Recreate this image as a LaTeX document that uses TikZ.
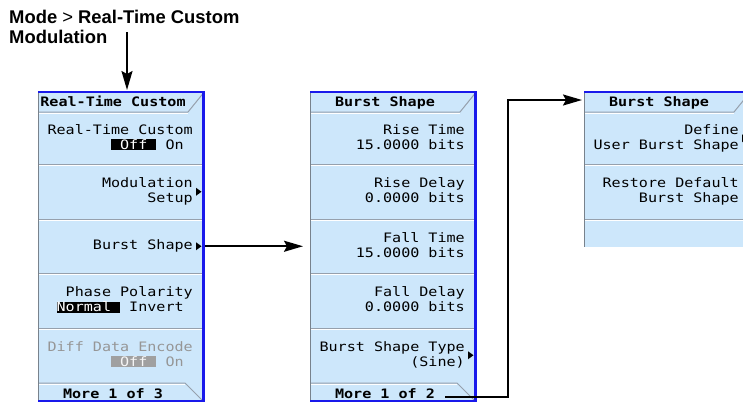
\documentclass[tikz,border=0pt]{standalone}
\usepackage{fontspec}
\setmainfont{Liberation Sans}
\newfontfamily\keyfont[FakeStretch=1.16]{DejaVu Sans Mono}
\usetikzlibrary{arrows.meta,calc}
\definecolor{panelfill}{RGB}{205,231,251}
\definecolor{keyblue}{RGB}{25,25,235}
\definecolor{sepgray}{RGB}{150,160,172}
\definecolor{edgegray}{RGB}{120,130,140}
\definecolor{dimtext}{RGB}{150,150,150}
\definecolor{dimbox}{RGB}{160,160,160}
\newcommand\ks{\rule[-3pt]{0pt}{13pt}}
\newcommand\hlbox[1]{{\setlength{\fboxsep}{0pt}\colorbox{black}{\rule[-1pt]{0pt}{11pt}\textcolor{white}{#1}}}}
\newcommand\dmbox[1]{{\setlength{\fboxsep}{0pt}\colorbox{dimbox}{\rule[-1pt]{0pt}{11pt}\textcolor{white!90!dimbox}{#1}}}}
\newcommand\panelchrome[1]{%
  \draw[sepgray, line width=1pt] (0,112) -- (150,112) -- (165,93.5);
  \draw[white, line width=1pt] (1,113) -- (149.5,113);
  \foreach \yy in {#1} {
    \draw[sepgray, line width=1pt] (1,\yy) -- (165,\yy);
    \draw[white, line width=1pt] (1,\yy+1) -- (165,\yy+1);
  }
}
\newcommand\fullbottom{%
  \draw[sepgray, line width=1pt] (0,383) -- (147,383) -- (164,400);
  \draw[white, line width=1pt] (1,384) -- (146.5,384);
  \draw[edgegray, line width=1pt] (0.5,92) -- (0.5,401);
  \draw[keyblue, line width=2pt] (0,92) -- (167,92);
  \draw[keyblue, line width=3pt] (165.5,92) -- (165.5,402);
  \draw[keyblue, line width=2pt] (0,401) -- (167,401);
}
\newcommand\ktri[1]{\fill (158,#1-4) -- (163.5,#1) -- (158,#1+4) -- cycle;}
\tikzset{
  keytext/.style={font=\keyfont\fontsize{13}{15}\selectfont, inner sep=0pt, align=right, anchor=east},
  keytitle/.style={font=\keyfont\bfseries\fontsize{13}{15}\selectfont, inner sep=0pt, anchor=base},
  arr/.style={line width=2pt, -{Stealth[length=19pt,width=11pt,inset=3pt]}},
  panelbox/.style={fill=panelfill, draw=none, inner sep=0pt, anchor=north west, minimum width=167pt},
}
\begin{document}
\begin{tikzpicture}[x=1pt, y=-1pt]
\useasboundingbox (0,0) rectangle (743,402);
\fill[white] (0,0) rectangle (743,402);
\clip (0,0) rectangle (743,402);

\node[anchor=base west, align=left, inner sep=0pt, font=\bfseries\fontsize{18.4}{20}\selectfont] (head) at (9,43) {Mode {\mdseries >} Real-Time Custom\\Modulation};

% panel 1
\begin{scope}[xshift=38pt]
  \node[panelbox, minimum height=309pt] (p1) at (0,92) {};
  \panelchrome{164.5,219,273.5,328}
  \fullbottom
  \node[keytitle] (p1t) at (75,106) {Real-Time Custom};
  \node[keytext] (p1b1) at (155,138.25) {\ks Real-Time Custom\\\ks\hlbox{\ Off\ }\ On\phantom{0}};
  \node[keytext] (p1b2) at (155,191.75) {\ks Modulation\\\ks Setup};
  \ktri{191.75}
  \node[keytext] (p1b3) at (155,246.25) {\ks Burst Shape};
  \ktri{246.25}
  \node[keytext] (p1b4) at (155,300.75) {\ks Phase Polarity\\\ks\hlbox{Normal\ }\ Invert\phantom{0}};
  \node[keytext, text=dimtext] (p1b5) at (155,355.25) {\ks Diff Data Encode\\\ks\dmbox{\ Off\ }\ On\phantom{0}};
  \node[keytitle] (p1m) at (75,398) {More 1 of 3};
\end{scope}

% panel 2
\begin{scope}[xshift=310pt]
  \node[panelbox, minimum height=309pt] (p2) at (0,92) {};
  \panelchrome{164.5,219,273.5,328}
  \fullbottom
  \node[keytitle] (p2t) at (75,106) {Burst Shape};
  \node[keytext] (p2b1) at (155,138.25) {\ks Rise Time\\\ks 15.0000 bits};
  \node[keytext] (p2b2) at (155,191.75) {\ks Rise Delay\\\ks 0.0000 bits};
  \node[keytext] (p2b3) at (155,246.25) {\ks Fall Time\\\ks 15.0000 bits};
  \node[keytext] (p2b4) at (155,300.75) {\ks Fall Delay\\\ks 0.0000 bits};
  \node[keytext] (p2b5) at (155,355.25) {\ks Burst Shape Type\\\ks (Sine)};
  \ktri{355.25}
  \node[keytitle] (p2m) at (75,398) {More 1 of 2};
\end{scope}

% panel 3
\begin{scope}[xshift=584pt]
  \node[panelbox, minimum height=155pt] (p3) at (0,92) {};
  \panelchrome{164.5,219}
  \draw[edgegray, line width=1pt] (0.5,92) -- (0.5,247);
  \draw[keyblue, line width=2pt] (0,92) -- (167,92);
  \node[keytitle] (p3t) at (75,106) {Burst Shape};
  \node[keytext] (p3b1) at (155,138.25) {\ks Define\\\ks User Burst Shape};
  \ktri{138.25}
  \node[keytext] (p3b2) at (155,191.75) {\ks Restore Default\\\ks Burst Shape};
\end{scope}

% connectors
\coordinate (a1s) at (127,32);
\draw[arr, shorten >=2pt] (a1s) -- (a1s |- p1.north);
\draw[arr, shorten >=7pt] (p1b3 -| p1.east) -- (p1b3 -| p2.west);
\coordinate (a3s) at (445,397);
\coordinate (a3c) at (508,100);
\draw[arr, shorten >=2pt] (a3s) -| (a3c) -- (a3c -| p3.west);
\end{tikzpicture}
\end{document}
